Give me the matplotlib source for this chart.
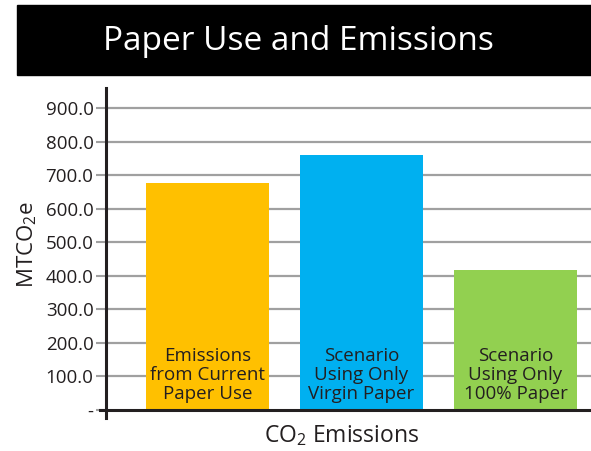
import matplotlib
matplotlib.use("Agg")
import matplotlib.pyplot as plt
from matplotlib.patches import Rectangle
import matplotlib.transforms as mtransforms

plt.rcParams['font.family'] = ['Open Sans', 'DejaVu Sans']
plt.rcParams['mathtext.default'] = 'regular'

categories = ["Emissions\nfrom Current\nPaper Use",
              "Scenario\nUsing Only\nVirgin Paper",
              "Scenario\nUsing Only\n100% Paper"]
values = [676, 762, 418]
colors = ["#FFC000", "#00B0F0", "#92D050"]
yticks = [0, 100, 200, 300, 400, 500, 600, 700, 800, 900]
yticklabels = ["-", "100.0", "200.0", "300.0", "400.0", "500.0",
               "600.0", "700.0", "800.0", "900.0"]

W, H = 591, 451
fig = plt.figure(figsize=(W / 100, H / 100), dpi=100)

# title banner
fig.patches.append(Rectangle((17 / W, 1 - 75 / H), 1 - 17 / W, 70 / H,
                             transform=fig.transFigure, color="black", zorder=0))
fig.text(298 / W, 1 - 41 / H, "Paper Use and Emissions", color="white",
         fontsize=24, ha="center", va="center")

ax = fig.add_axes([106 / W, 1 - 418 / H, (591 - 106) / W, (418 - 88) / H])
x = list(range(len(values)))
ax.bar(x, values, width=0.8, color=colors, zorder=2)
ax.set_xlim(-0.658, 2.49)
ax.set_ylim(-24, 961)

ax.set_yticks(yticks)
ax.set_yticklabels(yticklabels, fontsize=13.5, color="#231f20")
ax.tick_params(axis="y", length=7, width=1.5, color="#a0a0a0", pad=2)
ax.set_xticks([])
for gy in yticks[1:]:
    ax.axhline(gy, color="#a0a0a0", lw=1.6, zorder=1)

for s in ["top", "right", "bottom"]:
    ax.spines[s].set_visible(False)
ax.spines["left"].set_linewidth(2.2)
ax.spines["left"].set_color("#231f20")

trans = mtransforms.blended_transform_factory(ax.transAxes, ax.transData)
ax.plot([-0.013, 1], [0, 0], color="#231f20", lw=2.2, transform=trans,
        clip_on=False, zorder=3)

for xi, lab in zip(x, categories):
    ax.text(xi, 104, lab, ha="center", va="center", fontsize=13.5,
            color="#231f20", linespacing=1.05, zorder=4)

fig.text(27 / W, 1 - 245 / H, "MTCO$_2$e", rotation=90, fontsize=16,
         ha="center", va="center", color="#231f20")
fig.text(342 / W, 1 - 436 / H, "CO$_2$ Emissions", fontsize=16.5,
         ha="center", va="center", color="#231f20")

fig.savefig("out.png", dpi=100)
